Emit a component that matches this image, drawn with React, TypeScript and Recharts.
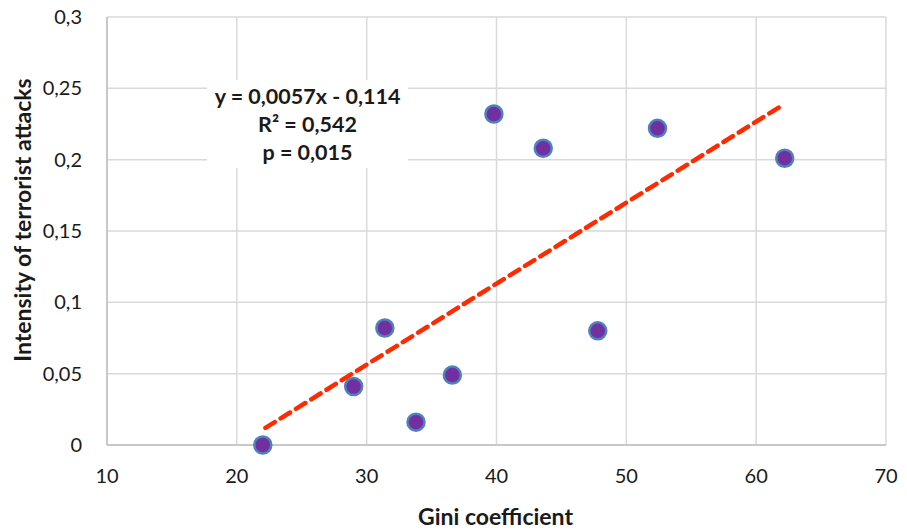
import {
  ScatterChart,
  Scatter,
  XAxis,
  YAxis,
  CartesianGrid,
  Label,
} from 'recharts'

// Gini coefficient vs. intensity of terrorist attacks
const giniValues = [22.0, 29.0, 31.4, 33.8, 36.6, 39.8, 43.6, 47.8, 52.4, 62.2]
const intensityValues = [0.0, 0.041, 0.082, 0.016, 0.049, 0.232, 0.208, 0.08, 0.222, 0.201]

// linear trend endpoints
const trendX = [22.2, 62.0]
const trendY = [0.012, 0.238]

const xTicks = [10, 20, 30, 40, 50, 60, 70]
const yTicks = [0, 0.05, 0.1, 0.15, 0.2, 0.25, 0.3]

const annotationLines = ['y = 0,0057x - 0,114', 'R² = 0,542', 'p = 0,015']

const points = giniValues.map((x, i) => ({ x, y: intensityValues[i] }))
const trend = trendX.map((x, i) => ({ x, y: trendY[i] }))

const FONT = 'Lato, "Open Sans", sans-serif'
const comma = (v: number) => String(v).replace('.', ',')

const Dot = (props: any) => {
  const { cx, cy } = props
  return <circle cx={cx} cy={cy} r={8.5} fill="#7030A0" stroke="#4F81BD" strokeWidth={2.5} />
}

export default function App() {
  return (
    <div style={{ position: 'absolute', left: 0, top: 0, width: 907, height: 530, background: '#fff' }}>
      <ScatterChart
        width={907}
        height={530}
        margin={{ top: 17, right: 21, bottom: 0, left: 0 }}
      >
        <CartesianGrid stroke="#d9d9d9" strokeWidth={1.5} />
        <XAxis
          type="number"
          dataKey="x"
          domain={[10, 70]}
          ticks={xTicks}
          height={85}
          tickSize={0}
          tickMargin={24}
          axisLine={{ stroke: '#bfbfbf', strokeWidth: 1.5 }}
          tick={{ fill: '#1a1a1a', fontSize: 20, fontFamily: FONT }}
        >
          <Label
            content={({ viewBox }: any) => (
              <text
                x={viewBox.x + viewBox.width / 2 - 1}
                y={viewBox.y + 80}
                textAnchor="middle"
                fontSize={23}
                fontWeight="bold"
                fontFamily={FONT}
                fill="#1a1a1a"
              >
                Gini coefficient
              </text>
            )}
          />
        </XAxis>
        <YAxis
          type="number"
          dataKey="y"
          domain={[0, 0.3]}
          ticks={yTicks}
          width={107}
          tickSize={0}
          tickMargin={25}
          tickFormatter={comma}
          axisLine={{ stroke: '#bfbfbf', strokeWidth: 1.5 }}
          tick={{ fill: '#1a1a1a', fontSize: 20, fontFamily: FONT }}
        >
          <Label
            content={({ viewBox }: any) => {
              const cx = 22
              const cy = 220
              return (
                <text
                  x={cx}
                  y={cy}
                  transform={`rotate(-90 ${cx} ${cy})`}
                  textAnchor="middle"
                  dominantBaseline="central"
                  fontSize={23}
                  fontWeight="bold"
                  fontFamily={FONT}
                  fill="#1a1a1a"
                >
                  Intensity of terrorist attacks
                </text>
              )
            }}
          />
        </YAxis>
        <Scatter
          data={trend}
          line={{ stroke: '#FF2A00', strokeWidth: 4.5, strokeDasharray: '11 7', strokeLinecap: 'round' }}
          shape={() => null}
          isAnimationActive={false}
        />
        <Scatter data={points} shape={<Dot />} isAnimationActive={false} />
      </ScatterChart>
      <div
        style={{
          position: 'absolute',
          left: 207,
          top: 80,
          width: 201,
          height: 88,
          background: '#fff',
          fontFamily: FONT,
          fontWeight: 'bold',
          fontSize: 21.5,
          lineHeight: '28px',
          color: '#1a1a1a',
          textAlign: 'center',
          paddingTop: 2,
          boxSizing: 'border-box',
          whiteSpace: 'nowrap',
        }}
      >
        {annotationLines.map((t) => (
          <div key={t}>{t}</div>
        ))}
      </div>
    </div>
  )
}
